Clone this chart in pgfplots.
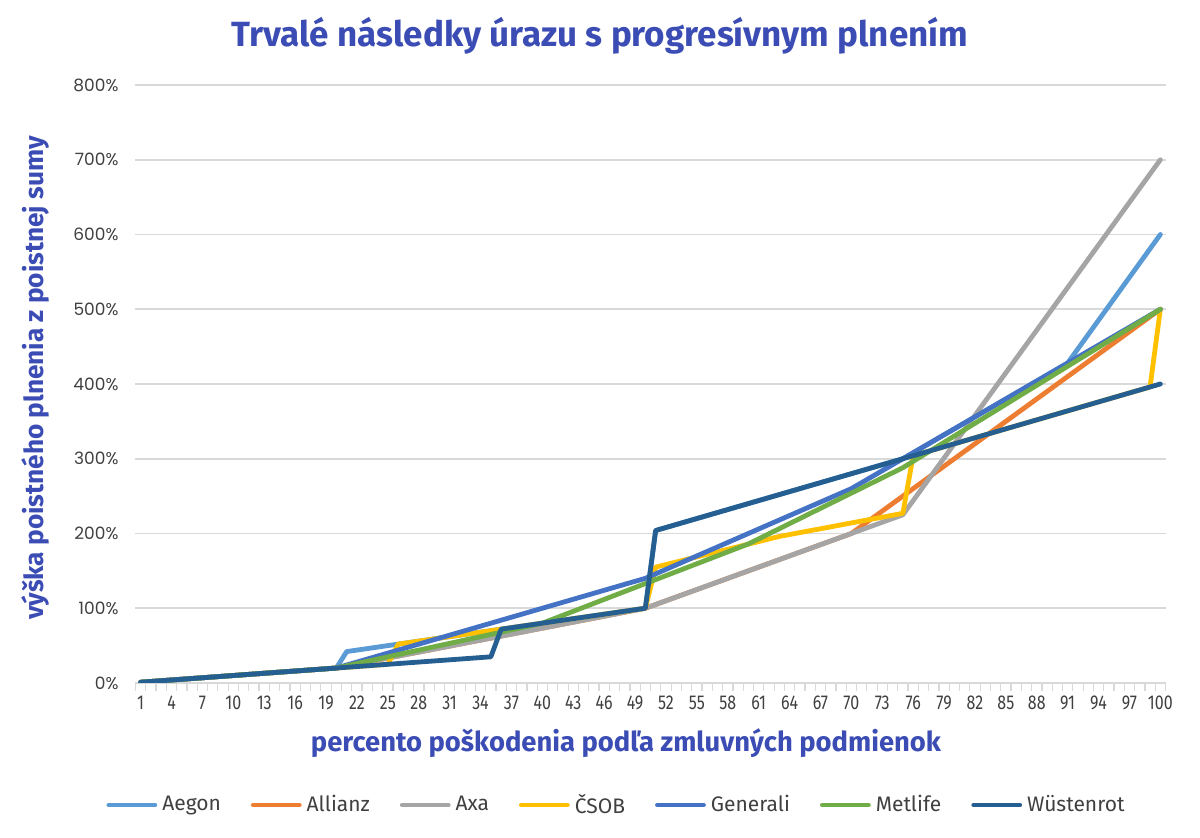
\documentclass[border=0pt]{standalone}
\usepackage{fontspec}
\setmainfont{Fira Sans}
\newfontfamily\condfont{Fira Sans}[FakeStretch=0.8]
\newfontfamily\titlefont{Fira Sans}
\newfontfamily\tickfont{Poppins}
\usepackage{pgfplots}
\usepackage{pgfplotstable}
\pgfplotsset{compat=1.18}

\definecolor{cAegon}{RGB}{91,155,213}
\definecolor{cAllianz}{RGB}{237,125,49}
\definecolor{cAxa}{RGB}{165,165,165}
\definecolor{cCSOB}{RGB}{255,192,0}
\definecolor{cGenerali}{RGB}{68,114,196}
\definecolor{cMetlife}{RGB}{112,173,71}
\definecolor{cWust}{RGB}{37,94,145}
\definecolor{titleblue}{RGB}{59,76,180}
\definecolor{gridgray}{RGB}{217,217,217}
\definecolor{ticktext}{RGB}{64,64,64}

% percent of sum insured, by injury percentage
\pgfplotstableread{
x ae al ax cs ge me wu
1 1 1 1 1 1 1 1
2 2 2 2 2 2 2 2
3 3 3 3 3 3 3 3
4 4 4 4 4 4 4 4
5 5 5 5 5 5 5 5
6 6 6 6 6 6 6 6
7 7 7 7 7 7 7 7
8 8 8 8 8 8 8 8
9 9 9 9 9 9 9 9
10 10 10 10 10 10 10 10
11 11 11 11 11 11 11 11
12 12 12 12 12 12 12 12
13 13 13 13 13 13 13 13
14 14 14 14 14 14 14 14
15 15 15 15 15 15 15 15
16 16 16 16 16 16 16 16
17 17 17 17 17 17 17 17
18 18 18 18 18 18 18 18
19 19 19 19 19 19 19 19
20 20 20 20 20 20 20 20
21 42 22.7 22.7 21 24 23 21
22 44 25.3 25.3 22 28 26 22
23 46 28 28 23 32 29 23
24 48 30.7 30.7 24 36 32 24
25 50 33.3 33.3 25 40 35 25
26 52 36 36 52 44 38 26
27 54 38.7 38.7 54 48 41 27
28 56 41.3 41.3 56 52 44 28
29 58 44 44 58 56 47 29
30 60 46.7 46.7 60 60 50 30
31 62 49.3 49.3 62 64 53 31
32 64 52 52 64 68 56 32
33 66 54.7 54.7 66 72 59 33
34 68 57.3 57.3 68 76 62 34
35 70 60 60 70 80 65 35
36 72 62.7 62.7 72 84 68 72
37 74 65.3 65.3 74 88 71 74
38 76 68 68 76 92 74 76
39 78 70.7 70.7 78 96 77 78
40 80 73.3 73.3 80 100 80 80
41 82 76 76 82 104 85.3 82
42 84 78.7 78.7 84 108 90.6 84
43 86 81.3 81.3 86 112 95.9 86
44 88 84 84 88 116 101.2 88
45 90 86.7 86.7 90 120 106.5 90
46 92 89.3 89.3 92 124 111.8 92
47 94 92 92 94 128 117.1 94
48 96 94.7 94.7 96 132 122.4 96
49 98 97.3 97.3 98 136 127.7 98
50 100 100 100 100 140 133 100
51 204 105 105 155 146 138.3 204
52 208 110 110 158.4 152 143.6 208
53 212 115 115 161.8 158 148.9 212
54 216 120 120 165.3 164 154.2 216
55 220 125 125 168.7 170 159.5 220
56 224 130 130 172.1 176 164.8 224
57 228 135 135 175.5 182 170.1 228
58 232 140 140 178.9 188 175.4 232
59 236 145 145 182.3 194 180.7 236
60 240 150 150 185.8 200 186 240
61 244 155 155 189.2 206 192.8 244
62 248 160 160 192.6 212 199.6 248
63 252 165 165 196 218 206.4 252
64 256 170 170 198.6 224 213.2 256
65 260 175 175 201.2 230 220 260
66 264 180 180 203.8 236 226.8 264
67 268 185 185 206.3 242 233.6 268
68 272 190 190 208.9 248 240.4 272
69 276 195 195 211.5 254 247.2 276
70 280 200 200 214.1 260 254 280
71 284 210 205 216.7 268 260.8 284
72 288 220 210 219.3 276 267.6 288
73 292 230 215 221.8 284 274.4 292
74 296 240 220 224.4 292 281.2 296
75 300 250 225 227 300 288 300
76 308 260 244 304 308 296.5 304
77 316 270 263 308 316 305 308
78 324 280 282 312 324 313.4 312
79 332 290 301 316 332 321.9 316
80 340 300 320 320 340 330.4 320
81 348 310 339 324 348 338.9 324
82 356 320 358 328 356 347.4 328
83 364 330 377 332 364 355.8 332
84 372 340 396 336 372 364.3 336
85 380 350 415 340 380 372.8 340
86 388 360 434 344 388 381.3 344
87 396 370 453 348 396 389.8 348
88 404 380 472 352 404 398.2 352
89 412 390 491 356 412 406.7 356
90 420 400 510 360 420 415.2 360
91 428 410 529 364 428 423.7 364
92 447.1 420 548 368 436 432.2 368
93 466.2 430 567 372 444 440.6 372
94 485.3 440 586 376 452 449.1 376
95 504.4 450 605 380 460 457.6 380
96 523.6 460 624 384 468 466.1 384
97 542.7 470 643 388 476 474.6 388
98 561.8 480 662 392 484 483 392
99 580.9 490 681 396 492 491.5 396
100 600 500 700 500 500 500 400
}\dataT

\begin{document}
\begin{tikzpicture}
\useasboundingbox (-67.75pt,-77.5pt) rectangle (532.25pt,341.5pt);
\begin{axis}[
    at={(0,0)}, anchor=south west,
    scale only axis,
    width=515pt, height=299pt,
    xmin=0.5, xmax=100.5,
    ymin=0, ymax=800,
    axis x line*=bottom,
    axis y line*=left,
    y axis line style={draw=none},
    x axis line style={draw=gridgray, line width=0.8pt},
    xtick={1,4,...,100},
    minor xtick={0.5,1.5,...,100.5},
    major tick length=0pt,
    minor tick length=4pt,
    tick align=outside,
    minor tick style={draw=gridgray, line width=0.6pt},
    ytick={0,100,...,800},
    ymajorgrids,
    grid style={draw=gridgray, line width=0.8pt},
    /pgf/number format/assume math mode=true,
    yticklabel={\pgfmathprintnumber{\tick}\%},
    yticklabel style={font=\tickfont\fontsize{8.5}{10}\selectfont, text=ticktext, xshift=-5pt},
    xticklabel style={font=\condfont\fontsize{10}{12}\selectfont, text=ticktext, yshift=-3pt},
    every axis plot/.append style={line width=2.4pt, line join=round, line cap=round},
    legend columns=-1,
    legend style={draw=none, fill=none, at={(0.468,-0.204)}, anchor=center,
        font=\fontsize{10.5}{12}\selectfont, text=ticktext,
        /tikz/every odd column/.append style={column sep=0.5pt},
        /tikz/every even column/.append style={column sep=13pt}},
    legend image code/.code={\draw[#1, line width=2.4pt] (0pt,0pt) -- (23pt,0pt);},
]
\addplot[cAegon] table[x=x, y=ae] {\dataT};
\addlegendentry{Aegon}
\addplot[cAllianz] table[x=x, y=al] {\dataT};
\addlegendentry{Allianz}
\addplot[cAxa] table[x=x, y=ax] {\dataT};
\addlegendentry{Axa}
\addplot[cCSOB] table[x=x, y=cs] {\dataT};
\addlegendentry{ČSOB}
\addplot[cGenerali] table[x=x, y=ge] {\dataT};
\addlegendentry{Generali}
\addplot[cMetlife] table[x=x, y=me] {\dataT};
\addlegendentry{Metlife}
\addplot[cWust] table[x=x, y=wu] {\dataT};
\addlegendentry{Wüstenrot}
\end{axis}
\node[anchor=base, font=\titlefont\bfseries\fontsize{17.5}{20}\selectfont, text=titleblue]
    at (232.25pt,318pt) {Trvalé následky úrazu s progresívnym plnením};
\node[rotate=90, font=\bfseries\fontsize{13.1}{15}\selectfont, text=titleblue]
    at (-50.25pt,152.5pt) {výška poistného plnenia z poistnej sumy};
\node[anchor=base, font=\bfseries\fontsize{13.7}{16}\selectfont, text=titleblue]
    at (245.25pt,-34.5pt) {percento poškodenia podľa zmluvných podmienok};
\end{tikzpicture}
\end{document}
